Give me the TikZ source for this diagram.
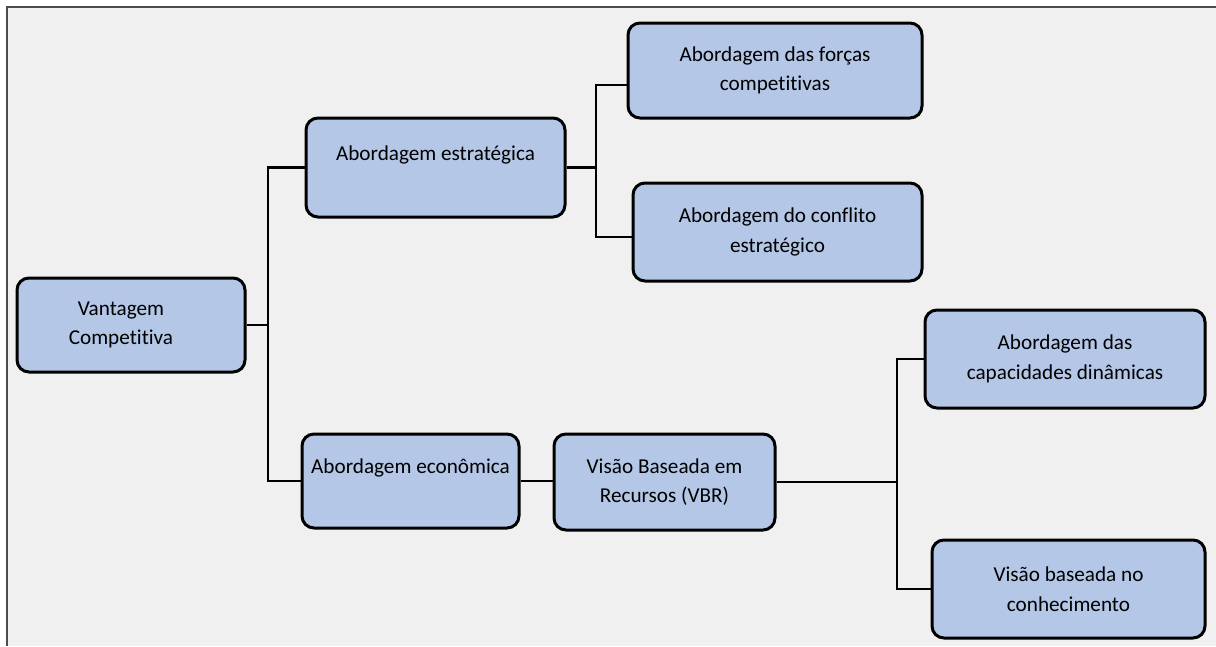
\documentclass[tikz,border=0pt]{standalone}
\usepackage{fontspec}
\setmainfont[Ligatures=NoCommon]{Carlito}
\usepackage{xcolor}
\definecolor{boxblue}{HTML}{B4C7E7}
\definecolor{panelgray}{HTML}{F0F0F0}
\begin{document}
\begin{tikzpicture}[x=1pt, y=-1pt,
    box/.style={draw=black, line width=3pt, rounded corners=12pt, fill=boxblue,
        align=center, inner sep=0pt, font=\fontsize{21.2}{29.5}\selectfont},
    conn/.style={line width=2.8pt}]
\useasboundingbox (0,0) rectangle (1216,646);
\fill[panelgray](7,7) rectangle (1216,646);
\draw[line width=1.5pt, black!70](7,646)--(7,7)--(1216,7);

\node[box, minimum width=228pt, minimum height=94pt](vc) at (131,325)
    {\hspace*{-20pt}Vantagem\\\hspace*{-20pt}Competitiva};
\node[box, minimum width=259pt, minimum height=99pt](ae) at (435.5,167.5){Abordagem estratégica\\\mbox{}};
\node[box, minimum width=217pt, minimum height=94pt](aec) at (410.5,481){Abordagem econômica\\\mbox{}};
\node[box, minimum width=294pt, minimum height=95pt](afc) at (775,70.5){Abordagem das forças\\competitivas};
\node[box, minimum width=289pt, minimum height=98pt](acs) at (777.5,232){Abordagem do conflito\\estratégico};
\node[box, minimum width=221pt, minimum height=96pt](vbr) at (664.5,482){Visão Baseada em\\Recursos (VBR)};
\node[box, minimum width=280pt, minimum height=98pt](acd) at (1065,359){Abordagem das\\capacidades dinâmicas};
\node[box, minimum width=273pt, minimum height=98pt](vbc) at (1068.5,589){Visão baseada no\\conhecimento};

\coordinate(b1) at (268,0);
\coordinate(b2) at (596,0);
\coordinate(b3) at (897,0);

\draw[conn](vc.east)--(vc.east-|b1);
\draw[conn](ae.west)--(ae.west-|b1)--(aec.west-|b1)--(aec.west);
\draw[conn](ae.east)--(ae.east-|b2);
\draw[conn]([yshift=-14.5pt]afc.west)--([yshift=-14.5pt]afc.west-|b2)
    --([yshift=-5pt]acs.west-|b2)--([yshift=-5pt]acs.west);
\draw[conn](aec.east)--(aec.east-|vbr.west);
\draw[conn](vbr.east)--(vbr.east-|b3);
\draw[conn](acd.west)--(acd.west-|b3)--(vbc.west-|b3)--(vbc.west);
\end{tikzpicture}
\end{document}
